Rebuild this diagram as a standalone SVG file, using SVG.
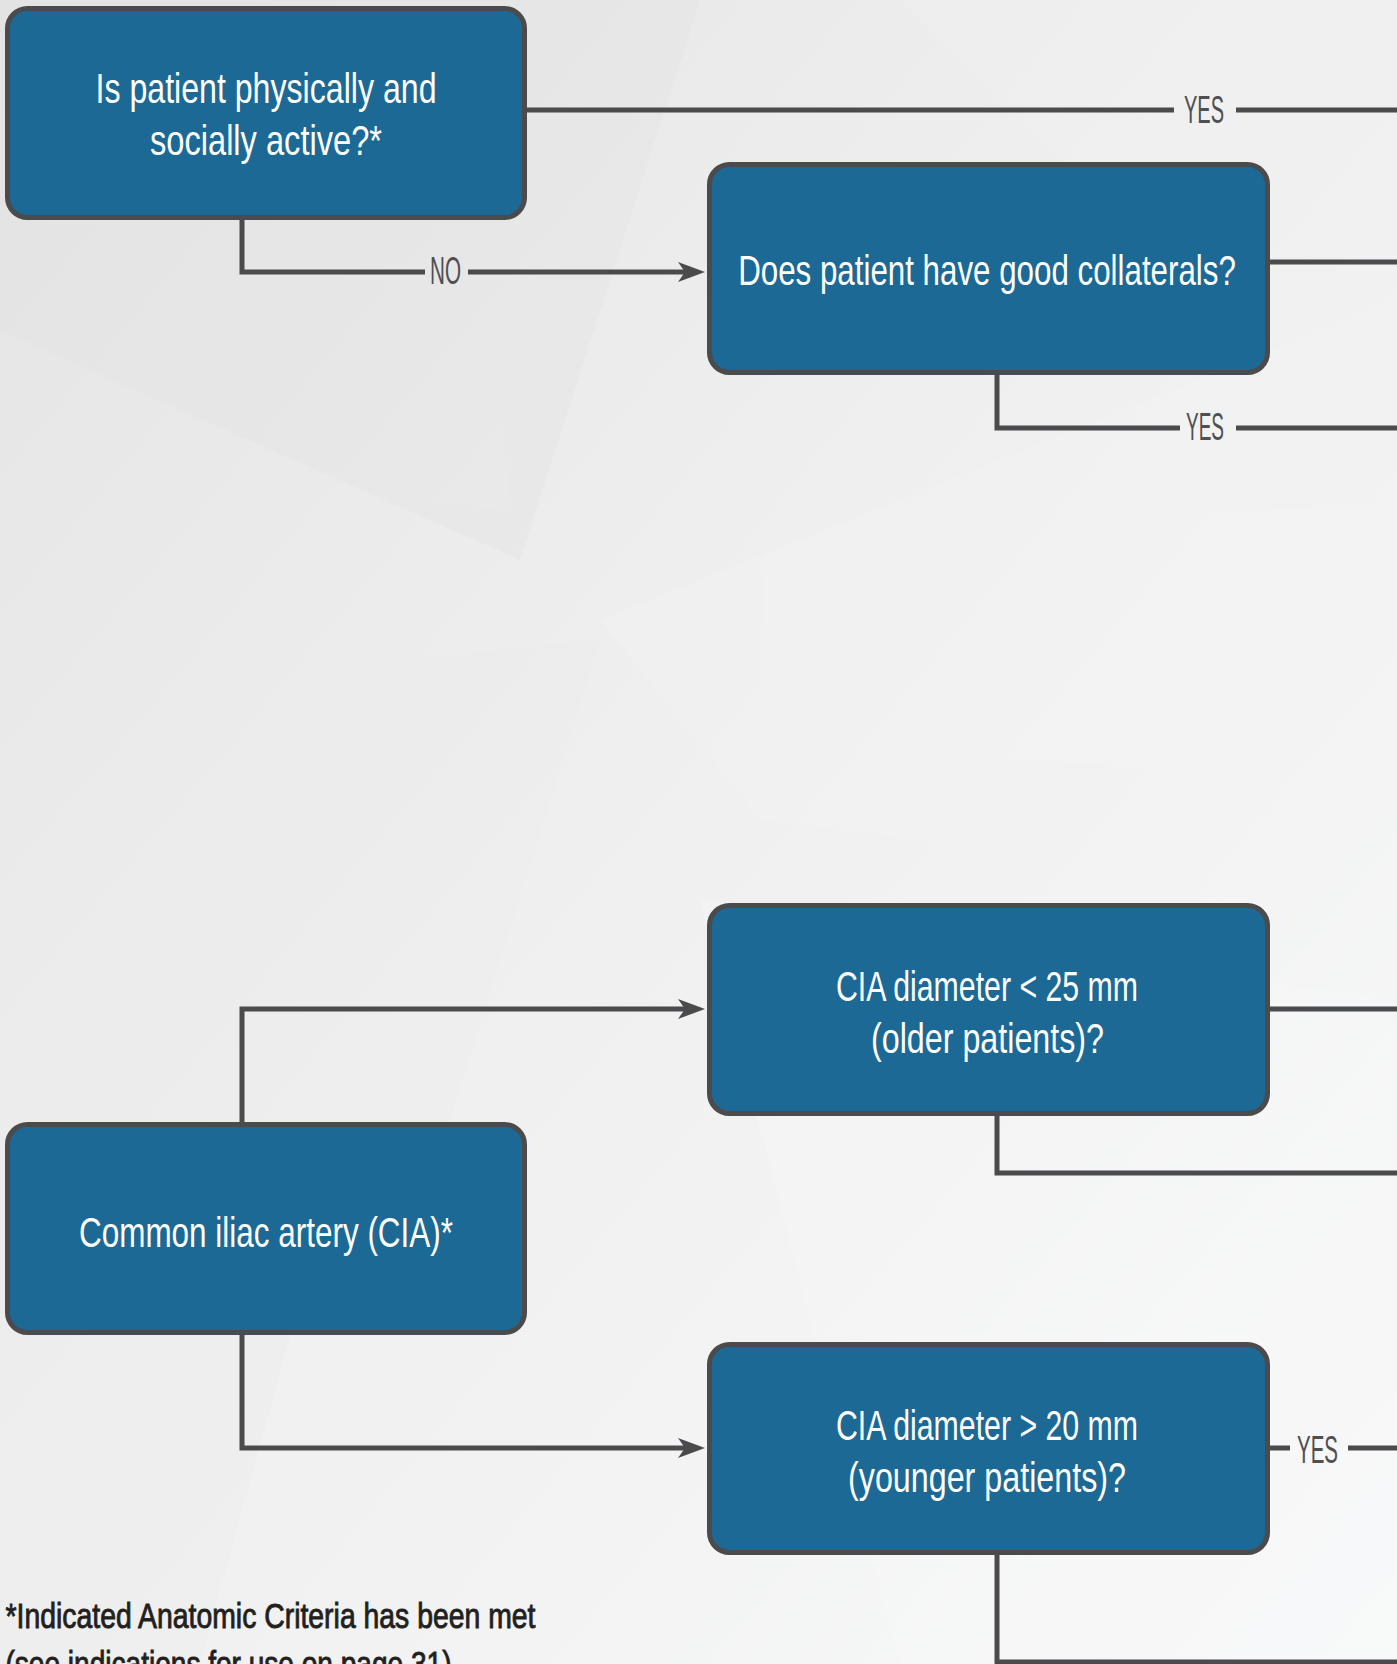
<svg xmlns="http://www.w3.org/2000/svg" width="1397" height="1664" viewBox="0 0 1397 1664">
<defs>
<linearGradient id="bg" x1="0" y1="0" x2="1" y2="1">
<stop offset="0" stop-color="#e4e4e4"/>
<stop offset="0.45" stop-color="#efefef"/>
<stop offset="1" stop-color="#f8f9fa"/>
</linearGradient>
<marker id="arrow" markerUnits="userSpaceOnUse" viewBox="0 -11 28 22" markerWidth="28" markerHeight="22" refX="12" refY="0" orient="auto">
<path d="M0,-10 L27,0 L0,10 L7,0 Z" fill="#4b4b4d"/>
</marker>
<style>
.box{fill:#1d6996;stroke:#4b4b4d;stroke-width:5}
.t{font-family:"Liberation Sans",Arial,sans-serif;font-size:43px;fill:#ffffff;text-anchor:middle}
.lbl{font-family:"Liberation Sans",Arial,sans-serif;font-size:38px;fill:#4f4f51}
.c{fill:none;stroke:#4b4b4d;stroke-width:5}
.note{font-family:"Liberation Sans",Arial,sans-serif;font-size:35px;fill:#231f20;stroke:#231f20;stroke-width:0.9}
</style>
</defs>
<rect width="1397" height="1664" fill="url(#bg)"/>
<g id="facets" opacity="0.3">
<polygon points="0,0 700,0 520,560 0,330" fill="#e2e2e2"/>
<polygon points="900,0 1397,0 1397,380 1150,250" fill="#f3f3f3"/>
<polygon points="600,620 1397,300 1397,900 760,820" fill="#f5f5f5"/>
<polygon points="0,700 600,640 280,1664 0,1664" fill="#ececec"/>
<polygon points="700,900 1397,1000 1397,1664 900,1664" fill="#f8f9fa"/>
<polygon points="300,1300 700,1150 620,1664 200,1664" fill="#f4f4f4"/>
</g>
<g id="connectors">
<path class="c" d="M527 110 H1174 M1236 110 H1397"/>
<path class="c" d="M242 220 V272 H425"/>
<path class="c" d="M468 272 H690" marker-end="url(#arrow)"/>
<path class="c" d="M1270 262 H1397"/>
<path class="c" d="M997 375 V428 H1180 M1236 428 H1397"/>
<path class="c" d="M242 1122 V1009 H690" marker-end="url(#arrow)"/>
<path class="c" d="M1270 1009 H1397"/>
<path class="c" d="M997 1116 V1173 H1397"/>
<path class="c" d="M242 1335 V1448 H690" marker-end="url(#arrow)"/>
<path class="c" d="M1270 1448 H1290 M1348 1448 H1397"/>
<path class="c" d="M997 1555 V1662 H1397"/>
<text class="lbl" x="1184" y="122.5" textLength="40" lengthAdjust="spacingAndGlyphs">YES</text>
<text class="lbl" x="430" y="283.5" textLength="31" lengthAdjust="spacingAndGlyphs">NO</text>
<text class="lbl" x="1186" y="440" textLength="38" lengthAdjust="spacingAndGlyphs">YES</text>
<text class="lbl" x="1297" y="1463" textLength="41" lengthAdjust="spacingAndGlyphs">YES</text>
</g>
<g id="node-active">
<rect class="box" x="7.5" y="8.5" width="517" height="209" rx="20"/>
<text class="t" x="266" y="103" textLength="341" lengthAdjust="spacingAndGlyphs">Is patient physically and</text>
<text class="t" x="266" y="155" textLength="232" lengthAdjust="spacingAndGlyphs">socially active?*</text>
</g>
<g id="node-collaterals">
<rect class="box" x="709.5" y="164.5" width="558" height="208" rx="20"/>
<text class="t" transform="translate(987 285) scale(0.7 1)" x="0" y="0" textLength="711" lengthAdjust="spacingAndGlyphs">Does patient have good collaterals?</text>
</g>
<g id="node-cia-older">
<rect class="box" x="709.5" y="905.5" width="558" height="208" rx="20"/>
<text class="t" x="987" y="1001" textLength="302" lengthAdjust="spacingAndGlyphs">CIA diameter &lt; 25 mm</text>
<text class="t" x="987.5" y="1052.5" textLength="233" lengthAdjust="spacingAndGlyphs">(older patients)?</text>
</g>
<g id="node-cia">
<rect class="box" x="7.5" y="1124.5" width="517" height="208" rx="20"/>
<text class="t" x="266" y="1247" textLength="374" lengthAdjust="spacingAndGlyphs">Common iliac artery (CIA)*</text>
</g>
<g id="node-cia-younger">
<rect class="box" x="709.5" y="1344.5" width="558" height="208" rx="20"/>
<text class="t" x="987" y="1440" textLength="302" lengthAdjust="spacingAndGlyphs">CIA diameter &gt; 20 mm</text>
<text class="t" x="987" y="1492" textLength="278" lengthAdjust="spacingAndGlyphs">(younger patients)?</text>
</g>
<g id="footnote">
<text class="note" x="5.5" y="1628" textLength="530" lengthAdjust="spacingAndGlyphs">*Indicated Anatomic Criteria has been met</text>
<text class="note" x="5.5" y="1676" textLength="446" lengthAdjust="spacingAndGlyphs">(see indications for use on page 31)</text>
</g>
</svg>
